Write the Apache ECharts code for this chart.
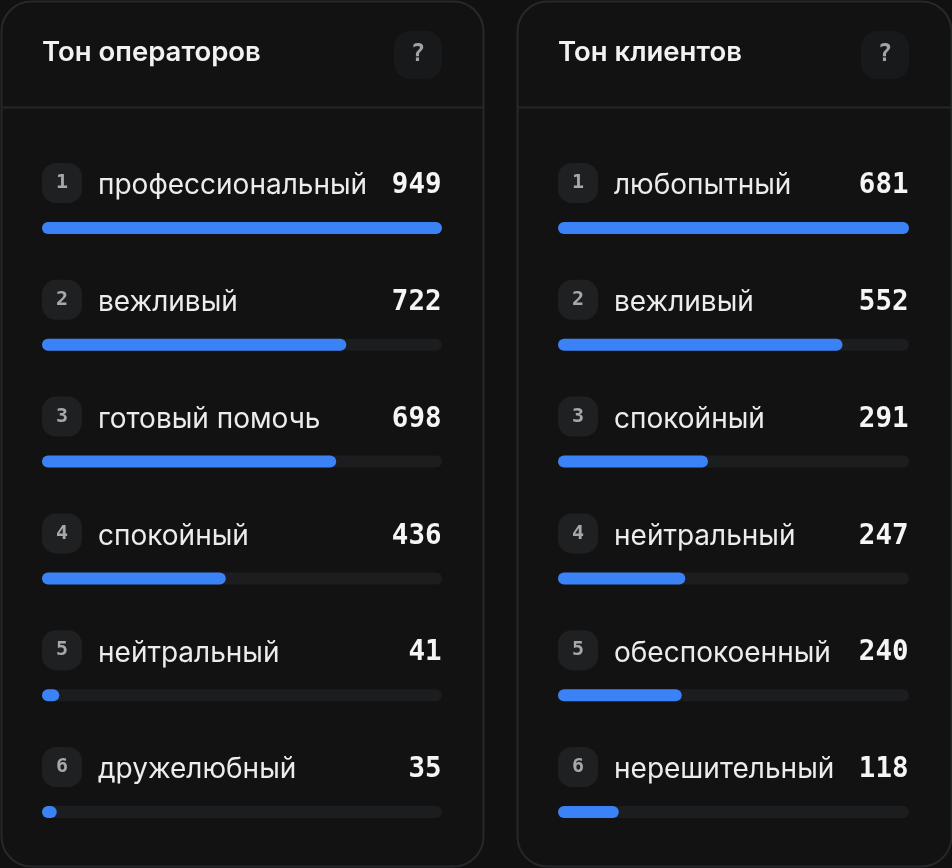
<!DOCTYPE html>
<html>
<head>
<meta charset="utf-8">
<style>html,body{margin:0;padding:0;background:#111112}#c{width:952px;height:868px}</style>
<script src="https://cdn.jsdelivr.net/npm/echarts@6/dist/echarts.min.js"></script>
</head>
<body>
<div id="c"></div>
<script>
const operatorTitle = 'Тон операторов';
const operatorTones = ['профессиональный', 'вежливый', 'готовый помочь', 'спокойный', 'нейтральный', 'дружелюбный'];
const operatorCounts = [949, 722, 698, 436, 41, 35];
const clientTitle = 'Тон клиентов';
const clientTones = ['любопытный', 'вежливый', 'спокойный', 'нейтральный', 'обеспокоенный', 'нерешительный'];
const clientCounts = [681, 552, 291, 247, 240, 118];

const SANS = 'Inter, "Noto Sans", sans-serif';
const MONO = '"DejaVu Sans Mono", monospace';
const panels = [
  { title: operatorTitle, tones: operatorTones, counts: operatorCounts, x: 1, w: 482, gridLeft: 42, gridW: 400, help: 394 },
  { title: clientTitle, tones: clientTones, counts: clientCounts, x: 517, w: 434, gridLeft: 558, gridW: 351, help: 861 }
];

const ROW = 116.8, GRID_TOP = 169.6;
const graphic = [], grid = [], xAxis = [], yAxis = [], series = [];

panels.forEach((p, i) => {
  // Card, header divider, title and help button
  graphic.push(
    { type: 'rect', z: 0, shape: { x: p.x + 0.5, y: 1.5, width: p.w, height: 865, r: 30 },
      style: { fill: '#121213', stroke: '#272829', lineWidth: 2 } },
    { type: 'line', z: 0, shape: { x1: p.x, y1: 107.5, x2: p.x + p.w, y2: 107.5 },
      style: { stroke: '#252627', lineWidth: 2 } },
    { type: 'text', z: 1, x: p.gridLeft, y: 53,
      style: { text: p.title, fill: '#f2f2f2', font: '600 27.5px ' + SANS, textVerticalAlign: 'middle' } },
    { type: 'rect', z: 1, shape: { x: p.help, y: 31, width: 48, height: 48, r: 16 }, style: { fill: '#18191b' } },
    { type: 'text', z: 2, x: p.help + 24, y: 55,
      style: { text: '?', fill: '#a3a3a3', font: '700 24px ' + MONO, textAlign: 'center', textVerticalAlign: 'middle' } }
  );

  grid.push({ left: p.gridLeft, width: p.gridW, top: GRID_TOP, height: ROW * 6, outerBoundsMode: 'none' });
  xAxis.push({ gridIndex: i, type: 'value', min: 0, max: Math.max(...p.counts), show: false });
  yAxis.push({ gridIndex: i, type: 'category', inverse: true, data: p.tones, show: false });

  // Progress bars over a dark track
  series.push({
    type: 'bar', xAxisIndex: i, yAxisIndex: i, data: p.counts, barWidth: 12, z: 3,
    itemStyle: { color: '#3b82f6', borderRadius: 6 },
    showBackground: true,
    backgroundStyle: { color: '#1c1d1f', borderRadius: 6 },
    silent: true
  });

  // Rank badge, tone name and count above each bar
  series.push({
    type: 'custom', xAxisIndex: i, yAxisIndex: i, z: 4, silent: true,
    data: p.counts.map((v, k) => [v, k]),
    encode: { x: 0, y: 1 },
    renderItem: (params, api) => {
      const k = api.value(1);
      const y = api.coord([0, k])[1];
      const right = p.gridLeft + p.gridW;
      return {
        type: 'group',
        children: [
          { type: 'rect', shape: { x: p.gridLeft, y: y - 65, width: 40, height: 40, r: 14 }, style: { fill: '#1f2022' } },
          { type: 'text', x: p.gridLeft + 20, y: y - 45,
            style: { text: String(k + 1), fill: '#a8a8a8', font: '700 20px ' + MONO, textAlign: 'center', textVerticalAlign: 'middle' } },
          { type: 'text', x: p.gridLeft + 56, y: y - 42,
            style: { text: p.tones[k], fill: '#ececec', font: '400 28px ' + SANS, textVerticalAlign: 'middle' } },
          { type: 'text', x: right - 0.5, y: y - 42,
            style: { text: String(p.counts[k]), fill: '#f5f5f5', font: '700 27.5px ' + MONO, textAlign: 'right', textVerticalAlign: 'middle' } }
        ]
      };
    }
  });
});

const chart = echarts.init(document.getElementById('c'));
chart.setOption({ animation: false, backgroundColor: '#111112', graphic, grid, xAxis, yAxis, series });
</script>
</body>
</html>
